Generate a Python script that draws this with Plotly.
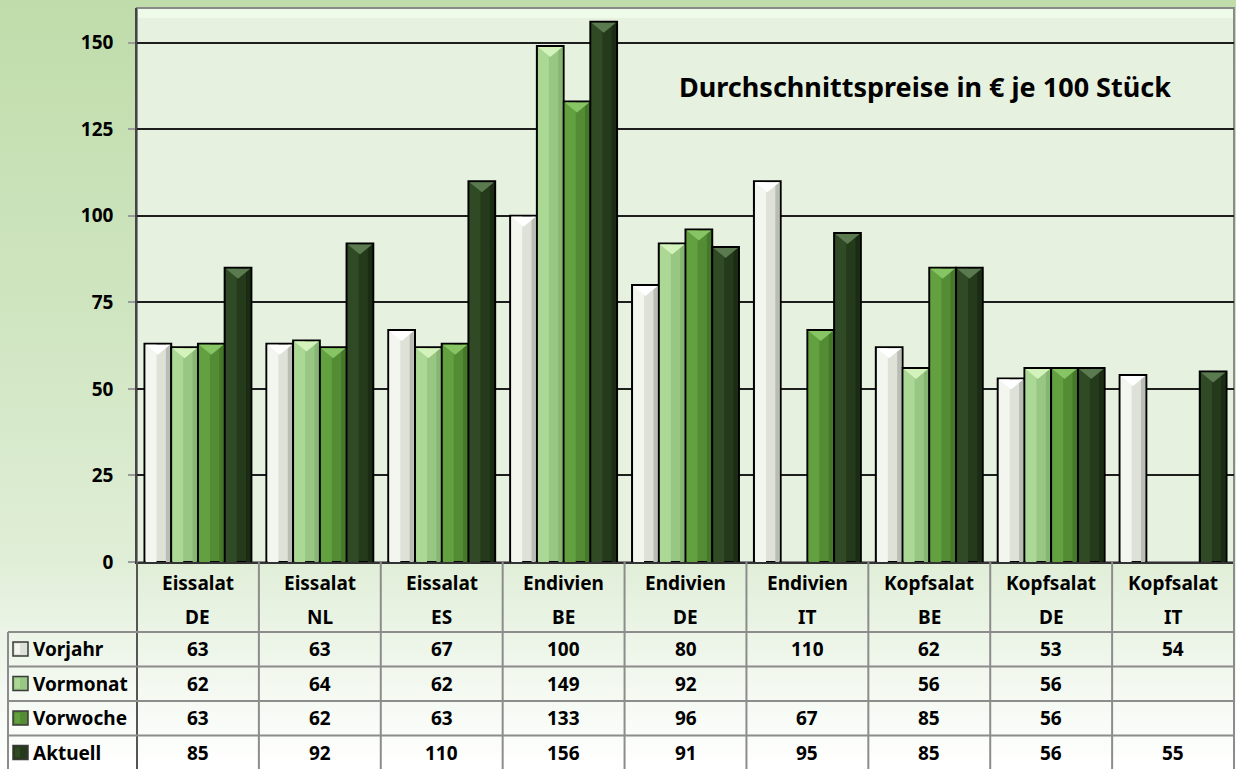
import base64

import plotly.graph_objects as go

# --- data -------------------------------------------------------------
products = ["Eissalat", "Eissalat", "Eissalat", "Endivien", "Endivien",
            "Endivien", "Kopfsalat", "Kopfsalat", "Kopfsalat"]
origins = ["DE", "NL", "ES", "BE", "DE", "IT", "BE", "DE", "IT"]

series_names = ["Vorjahr", "Vormonat", "Vorwoche", "Aktuell"]
vorjahr = [63, 63, 67, 100, 80, 110, 62, 53, 54]
vormonat = [62, 64, 62, 149, 92, None, 56, 56, None]
vorwoche = [63, 62, 63, 133, 96, 67, 85, 56, None]
aktuell = [85, 92, 110, 156, 91, 95, 85, 56, 55]
series_values = [vorjahr, vormonat, vorwoche, aktuell]

y_ticks = [0, 25, 50, 75, 100, 125, 150]
title_text = "Durchschnittspreise in € je 100 Stück"

# --- styling ----------------------------------------------------------
# (main, left face, right edge, top triangle)
palette = [
    ("#dde1d8", "#f3f6ef", "#b9bdb4", "#ffffff"),
    ("#97c783", "#acd896", "#86b672", "#d4f2bc"),
    ("#538c35", "#62a040", "#457829", "#86c464"),
    ("#243a1b", "#2f4a25", "#1a2c13", "#5b7a4f"),
]

W, H = 1236, 769
PL, PR, PT, PB = 137, 1234, 8, 562  # plot area in pixels
N = len(products)
Y_MAX = 160
PX_X = N / (PR - PL)       # category units per pixel
PX_Y = Y_MAX / (PB - PT)   # value units per pixel

BARGAP = 0.123
BW = (1 - BARGAP) / len(series_names)
FONT = "Noto Sans, Open Sans, DejaVu Sans, sans-serif"


def xp(px):
    return (px - PL) / (PR - PL)


def yp(py):
    return (PB - py) / (PB - PT)


fig = go.Figure()

xs = list(range(N))
for k, (name, vals) in enumerate(zip(series_names, series_values)):
    main, light, dark, top = palette[k]
    off = -(1 - BARGAP) / 2 + k * BW
    fig.add_trace(go.Bar(
        x=xs, y=vals, name=name, width=BW, offset=off,
        marker=dict(color=main, line=dict(color="#000000", width=2)),
        hoverinfo="skip", showlegend=False,
    ))

    # bevel faces built from the bar geometry
    left_x, left_y, right_x, right_y, tri_x, tri_y = [], [], [], [], [], []
    ix, iy = 1.2 * PX_X, 1.0 * PX_Y
    th = 10 * PX_Y
    for i, v in enumerate(vals):
        if v is None:
            continue
        xl = i + off
        xr = xl + BW
        xc = (xl + xr) / 2
        top_y = v - iy
        left_x += [xl + ix, xl + 0.45 * BW, xl + 0.45 * BW, xl + ix, xl + ix, None]
        left_y += [0, 0, top_y, top_y, 0, None]
        right_x += [xr - 0.2 * BW, xr - ix, xr - ix, xr - 0.2 * BW, xr - 0.2 * BW, None]
        right_y += [0, 0, top_y, top_y, 0, None]
        tri_x += [xl + ix, xr - ix, xc, xl + ix, None]
        tri_y += [top_y, top_y, top_y - th, top_y, None]
    for px_, py_, col in ((left_x, left_y, light), (right_x, right_y, dark),
                          (tri_x, tri_y, top)):
        fig.add_trace(go.Scatter(
            x=px_, y=py_, mode="lines", fill="toself", fillcolor=col,
            line=dict(width=0, color=col), hoverinfo="skip", showlegend=False,
        ))

# --- background -------------------------------------------------------
svg = (
    f"<svg xmlns='http://www.w3.org/2000/svg' width='{W}' height='{H}' "
    f"viewBox='0 0 {W} {H}' preserveAspectRatio='none'>"
    "<defs><linearGradient id='g' x1='0' y1='0' x2='0' y2='1'>"
    "<stop offset='0' stop-color='#c0dcaa'/>"
    "<stop offset='0.4' stop-color='#cfe5c0'/>"
    "<stop offset='0.73' stop-color='#e0eed7'/>"
    "<stop offset='0.82' stop-color='#ebf4e6'/>"
    "<stop offset='1' stop-color='#ffffff'/>"
    "</linearGradient></defs>"
    f"<rect width='{W}' height='{H}' fill='url(#g)'/></svg>"
)
bg_uri = "data:image/svg+xml;base64," + base64.b64encode(svg.encode()).decode()

shapes = [
    dict(type="rect", xref="paper", yref="paper", x0=0, x1=1, y0=0, y1=1,
         fillcolor="#e7f1df", line=dict(color="#8a8a8a", width=2), layer="below"),
    dict(type="rect", xref="paper", yref="paper", x0=xp(PL + 1), x1=xp(PR - 1),
         y0=yp(18), y1=yp(PT + 1), fillcolor="#eefbe8", line=dict(width=0),
         layer="below"),
]

GRID = "#8c8c8c"
row_edges = [632, 666.5, 701, 735.5, 770]
row_centers = [649, 683.5, 718, 752.5]

# table vertical lines on category edges
for k in range(N + 1):
    shapes.append(dict(type="line", xref="paper", yref="paper",
                       x0=k / N, x1=k / N, y0=yp(PB), y1=yp(H),
                       line=dict(color=GRID if k else "#555555", width=2)))
shapes.append(dict(type="line", xref="paper", yref="paper", x0=xp(8), x1=xp(8),
                   y0=yp(row_edges[0]), y1=yp(H), line=dict(color=GRID, width=2)))
for ry in row_edges[:-1]:
    shapes.append(dict(type="line", xref="paper", yref="paper", x0=xp(8), x1=1,
                       y0=yp(ry), y1=yp(ry), line=dict(color=GRID, width=2)))

# legend keys in the row-label column
for k, ry in enumerate(row_centers):
    main, light, dark, top = palette[k]
    shapes.append(dict(type="rect", xref="paper", yref="paper",
                       x0=xp(13), x1=xp(28), y0=yp(ry + 7), y1=yp(ry - 7),
                       fillcolor=main, line=dict(color="#3a3a3a", width=1.5)))
    shapes.append(dict(type="rect", xref="paper", yref="paper",
                       x0=xp(15), x1=xp(20), y0=yp(ry + 5), y1=yp(ry - 5),
                       fillcolor=light, line=dict(width=0)))

# --- annotations ------------------------------------------------------
annotations = [dict(
    text=title_text, xref="paper", yref="paper", x=xp(925), y=yp(86),
    xanchor="center", yanchor="middle", showarrow=False,
    font=dict(family=FONT, size=27, color="#000000", weight="bold"),
)]
cell_font = dict(family=FONT, size=19, color="#000000", weight="bold")


def cell(text, x, y, anchor="center"):
    return dict(text=text, xref="paper", yref="paper", x=x, y=y,
                xanchor=anchor, yanchor="middle", showarrow=False, font=cell_font)


for i in range(N):
    cx = (i + 0.5) / N
    annotations.append(cell(products[i], cx, yp(583)))
    annotations.append(cell(origins[i], cx, yp(617)))
    for k, vals in enumerate(series_values):
        if vals[i] is not None:
            annotations.append(cell(str(vals[i]), cx, yp(row_centers[k])))
for k, name in enumerate(series_names):
    annotations.append(cell(name, xp(31), yp(row_centers[k]), anchor="left"))

fig.update_layout(
    width=W, height=H, autosize=False,
    margin=dict(l=PL, r=W - PR, t=PT, b=H - PB, pad=0),
    barmode="overlay",
    paper_bgcolor="#ffffff",
    plot_bgcolor="rgba(0,0,0,0)",
    font=dict(family=FONT, size=19, color="#000000"),
    images=[dict(source=bg_uri, xref="paper", yref="paper", x=xp(0), y=yp(0),
                 sizex=W / (PR - PL), sizey=H / (PB - PT), xanchor="left",
                 yanchor="top", sizing="stretch", layer="below")],
    shapes=shapes,
    annotations=annotations,
    showlegend=False,
)
fig.update_xaxes(range=[-0.5, N - 0.5], showticklabels=False, showgrid=False,
                 zeroline=False, showline=True, linecolor="#333333", linewidth=2,
                 ticks="", fixedrange=True)
fig.update_yaxes(range=[0, Y_MAX], tickvals=y_ticks, showgrid=True,
                 gridcolor="#1e1e1e", gridwidth=2, zeroline=False, showline=True,
                 linecolor="#444444", linewidth=1.5, ticks="outside", ticklen=7,
                 tickcolor="#9a9a9a", tickwidth=1.5, ticklabelstandoff=11,
                 tickfont=dict(family=FONT, size=19, weight="bold"),
                 fixedrange=True)

# the page's default body margin would shift the figure by 8px
fig.write_html("out.html", config={"displayModeBar": False},
               post_script="document.body.style.margin='0';")
